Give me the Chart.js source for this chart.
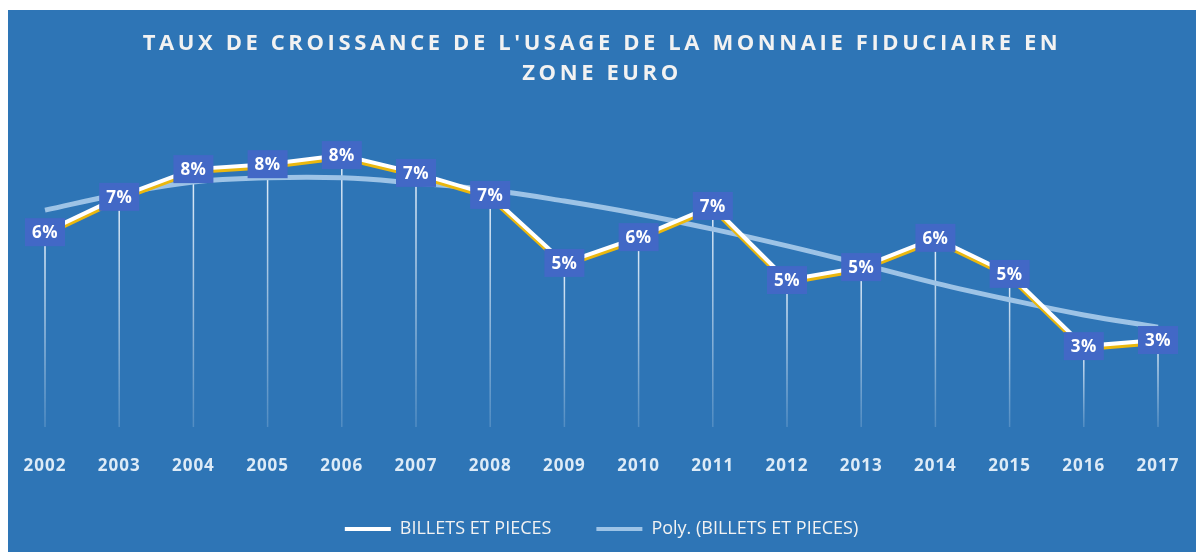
<!DOCTYPE html>
<html lang="fr">
<head>
  <meta charset="UTF-8">
  <title>Taux de croissance de l'usage de la monnaie fiduciaire en zone euro</title>
  <script src="https://cdn.jsdelivr.net/npm/chart.js"></script>
  <style>
    html, body { margin: 0; padding: 0; background: #fff; }
    #wrap { position: absolute; left: 8px; top: 10px; width: 1188px; height: 542px; background: #2E75B6; }
  </style>
</head>
<body>
  <div id="wrap"><canvas id="fiduChart" width="1188" height="542"></canvas></div>

  <script>
    // Data (growth rate, %)
    const years = ['2002', '2003', '2004', '2005', '2006', '2007', '2008', '2009',
                   '2010', '2011', '2012', '2013', '2014', '2015', '2016', '2017'];
    const billets = [5.89, 6.82, 7.55, 7.68, 7.92, 7.45, 6.87, 5.08,
                     5.76, 6.58, 4.63, 4.97, 5.74, 4.79, 2.89, 3.05];
    const polyTrend = [6.47, 6.89, 7.21, 7.32, 7.32, 7.18, 7.00, 6.71,
                       6.37, 5.97, 5.53, 5.05, 4.55, 4.11, 3.71, 3.39];
    const titleLines = ["TAUX DE CROISSANCE DE L'USAGE DE LA MONNAIE FIDUCIAIRE EN", 'ZONE EURO'];
    const seriesNames = ['BILLETS ET PIECES', 'Poly. (BILLETS ET PIECES)'];

    const ctx = document.getElementById('fiduChart').getContext('2d');

    // Title drawn by hand so the letter spacing can be widened
    const titlePlugin = {
      id: 'titlePlugin',
      beforeDraw(chart) {
        const c = chart.ctx;
        c.save();
        c.letterSpacing = '3.6px';
        c.fillStyle = '#F2F2F2';
        c.font = 'bold 22px "Open Sans"';
        c.textAlign = 'center';
        c.textBaseline = 'middle';
        titleLines.forEach((line, i) => c.fillText(line, chart.width / 2, 34 + i * 30));
        c.restore();
      }
    };

    // Excel-style drop lines from each point down to the axis
    const dropLines = {
      id: 'dropLines',
      beforeDatasetsDraw(chart) {
        const c = chart.ctx;
        const bottom = chart.chartArea.bottom;
        c.save();
        chart.getDatasetMeta(0).data.forEach(pt => {
          const g = c.createLinearGradient(0, pt.y, 0, bottom);
          g.addColorStop(0, 'rgba(230,240,250,1)');
          g.addColorStop(1, 'rgba(222,235,247,0.2)');
          c.strokeStyle = g;
          c.lineWidth = 1.5;
          c.beginPath();
          c.moveTo(pt.x, pt.y);
          c.lineTo(pt.x, bottom);
          c.stroke();
        });
        c.restore();
      }
    };

    // yellow underside of the white line
    const ribbon = {
      id: 'ribbon',
      beforeDatasetDraw(chart, args) {
        if (args.index !== 0) return;
        const c = chart.ctx;
        c.save();
        c.shadowColor = '#EBB80E';
        c.shadowOffsetY = 3;
        c.shadowBlur = 0;
      },
      afterDatasetDraw(chart, args) {
        if (args.index === 0) chart.ctx.restore();
      }
    };

    // value boxes on top of the lines
    const valueBoxes = {
      id: 'valueBoxes',
      afterDatasetsDraw(chart) {
        const c = chart.ctx;
        c.save();
        c.font = 'bold 17px "Open Sans"';
        c.letterSpacing = '0.5px';
        c.textAlign = 'center';
        c.textBaseline = 'middle';
        chart.getDatasetMeta(0).data.forEach((pt, i) => {
          c.fillStyle = '#4268C6';
          c.fillRect(pt.x - 20, pt.y - 14, 40, 28);
          c.fillStyle = '#FFFFFF';
          c.fillText(Math.round(billets[i]) + '%', pt.x, pt.y + 1);
        });
        c.restore();
        // wider spacing for the year labels drawn next
        c.letterSpacing = '1px';
      },
      afterDraw(chart) {
        chart.ctx.letterSpacing = '0px';
      }
    };

    new Chart(ctx, {
      type: 'line',
      data: {
        labels: years,
        datasets: [
          {
            label: seriesNames[0],
            data: billets,
            borderColor: '#FFFFFF',
            backgroundColor: '#FFFFFF',
            borderWidth: 4,
            pointRadius: 0,
            tension: 0
          },
          {
            label: seriesNames[1],
            data: polyTrend,
            borderColor: '#9DC3E6',
            backgroundColor: '#9DC3E6',
            borderWidth: 5,
            pointRadius: 0,
            tension: 0.4
          }
        ]
      },
      options: {
        responsive: false,
        animation: false,
        layout: { padding: { left: 37, right: 38, top: 90, bottom: 4 } },
        plugins: {
          title: { display: false },
          tooltip: { enabled: false },
          legend: {
            position: 'bottom',
            labels: {
              color: '#F2F2F2',
              font: { family: 'Open Sans', size: 18 },
              boxWidth: 46,
              boxHeight: 4,
              padding: 45,
              generateLabels: chart => chart.data.datasets.map((ds, i) => ({
                text: ds.label,
                fillStyle: ds.borderColor,
                strokeStyle: ds.borderColor,
                lineWidth: 0,
                hidden: false,
                datasetIndex: i,
                fontColor: '#F2F2F2'
              }))
            }
          }
        },
        scales: {
          x: {
            grid: { display: false, drawTicks: false },
            border: { display: false },
            ticks: {
              z: 1,
              color: '#DDEBF7',
              font: { family: 'Open Sans', size: 17, weight: 'bold' },
              padding: 29,
              maxRotation: 0,
              autoSkip: false
            },
            afterFit(scale) {
              scale.height = 48;
              scale.paddingLeft = 0;
              scale.paddingRight = 0;
            }
          },
          y: {
            display: false,
            min: 0.76,
            max: 9.37
          }
        }
      },
      plugins: [titlePlugin, dropLines, ribbon, valueBoxes]
    });
  </script>
</body>
</html>
